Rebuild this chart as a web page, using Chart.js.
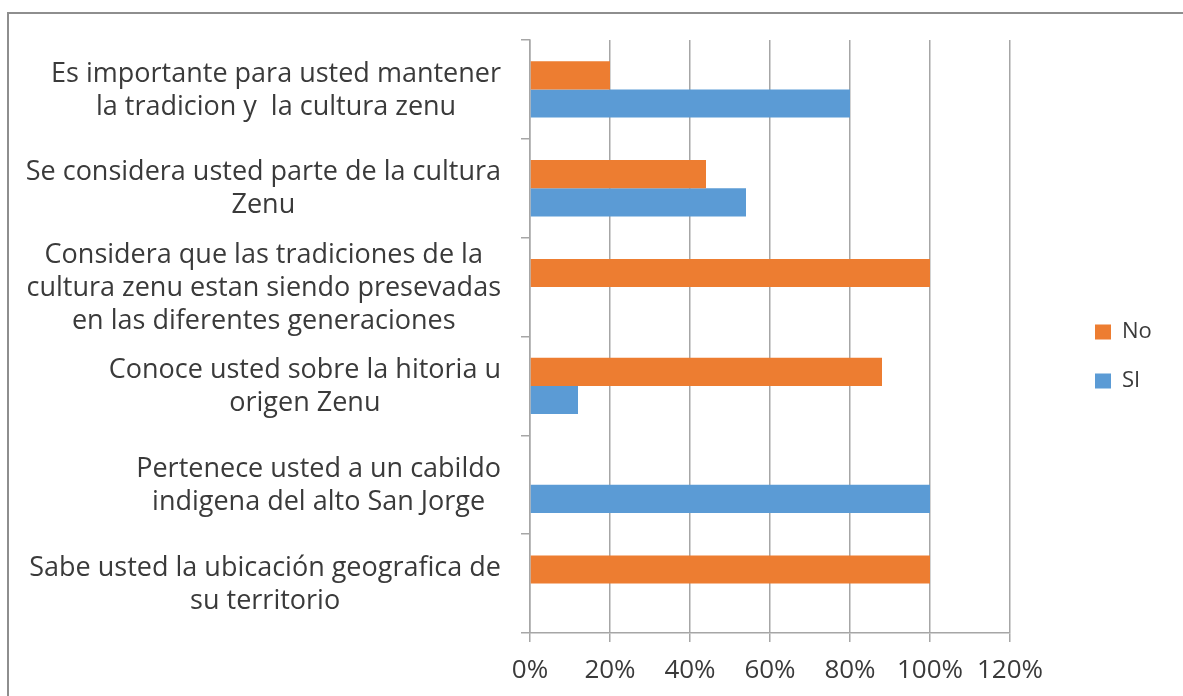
<!DOCTYPE html>
<html>
<head>
<meta charset="utf-8">
<script src="https://cdn.jsdelivr.net/npm/chart.js@4"></script>
<style>
	body { margin: 0; background: #fff; }
	#wrap { position: relative; width: 1183px; height: 696px; overflow: hidden; }
	#frame { position: absolute; left: 7px; top: 12px; width: 1300px; height: 800px;
		border-top: 2px solid #8e8e8e; border-left: 2px solid #8e8e8e; pointer-events: none; }
	canvas { position: absolute; left: 0; top: 0; }
</style>
</head>
<body>
<div id="wrap">
	<canvas id="surveyChart" width="1183" height="696"></canvas>
	<div id="frame"></div>
</div>
<script>
// categories, top to bottom (each one already split in lines)
const categories = [
	["Es importante para usted mantener", "la tradicion y  la cultura zenu"],
	["Se considera usted parte de la cultura", "Zenu"],
	["Considera que las tradiciones de la", "cultura zenu estan siendo presevadas", "en las diferentes generaciones"],
	["Conoce usted sobre la hitoria u", "origen Zenu"],
	["Pertenece usted a un cabildo", "indigena del alto San Jorge"],
	["Sabe usted la ubicación geografica de", "su territorio"]
];
// percentages
const noValues = [20, 44, 100, 88, 0, 100];
const siValues = [80, 54, 0, 12, 100, 0];
const seriesNames = ["No", "SI"];
const xTicks = [0, 20, 40, 60, 80, 100, 120];

const textColor = "#3a3a3a";
const gridColor = "#a6a6a6";
const fontFamily = '"Open Sans", "DejaVu Sans", sans-serif';

// y labels: block right aligned, lines centered in the block (like Excel)
const labelPlugin = {
	id: "labelPlugin",
	afterDraw(chart) {
		const ctx = chart.ctx;
		const yScale = chart.scales.y;
		const area = chart.chartArea;
		ctx.save();
		ctx.fillStyle = textColor;
		ctx.textBaseline = "middle";
		ctx.textAlign = "center";
		ctx.font = "27px " + fontFamily;
		chart.data.labels.forEach((lines, i) => {
			const cy = yScale.getPixelForValue(i);
			const w = Math.max(...lines.map(l => ctx.measureText(l).width));
			const cx = area.left - 29 - w / 2;
			lines.forEach((line, j) => {
				ctx.fillText(line, cx, cy + 1 + (j - (lines.length - 1) / 2) * 33);
			});
		});

		// legend on the right
		ctx.textAlign = "left";
		ctx.font = "22px " + fontFamily;
		chart.data.datasets.forEach((ds, i) => {
			const y = 332 + i * 49;
			ctx.fillStyle = ds.backgroundColor;
			ctx.fillRect(area.right + 85, y - 7.5, 16, 15);
			ctx.fillStyle = textColor;
			ctx.fillText(ds.label, area.right + 112, y);
		});
		ctx.restore();
	}
};

function drawChart() {
	new Chart(document.getElementById("surveyChart"), {
		type: "bar",
		data: {
			labels: categories,
			datasets: [
				{ label: seriesNames[0], data: noValues, backgroundColor: "#ed7d31" },
				{ label: seriesNames[1], data: siValues, backgroundColor: "#5b9bd5" }
			]
		},
		options: {
			indexAxis: "y",
			responsive: false,
			animation: false,
			datasets: {
				bar: { categoryPercentage: 0.57, barPercentage: 1 }
			},
			layout: { padding: { top: 40, right: 173, bottom: 0, left: 0 } },
			plugins: {
				legend: { display: false },
				tooltip: { enabled: false }
			},
			scales: {
				x: {
					min: 0,
					max: 120,
					afterBuildTicks(scale) {
						scale.ticks = xTicks.map(v => ({ value: v }));
					},
					afterFit(scale) {
						scale.height = 63;
					},
					grid: { color: gridColor, lineWidth: 1.5, tickLength: 9 },
					border: { color: gridColor, width: 1.5 },
					ticks: {
						color: textColor,
						font: { family: fontFamily, size: 26 },
						padding: 13,
						maxRotation: 0,
						callback: v => v + "%"
					}
				},
				y: {
					afterFit(scale) {
						scale.width = 530;
					},
					grid: { drawOnChartArea: false, color: gridColor, lineWidth: 1.5, tickLength: 9 },
					border: { color: gridColor, width: 1.5 },
					ticks: { display: false }
				}
			}
		},
		plugins: [labelPlugin]
	});
}

document.fonts.load("27px 'Open Sans'").then(drawChart, drawChart);
</script>
</body>
</html>
